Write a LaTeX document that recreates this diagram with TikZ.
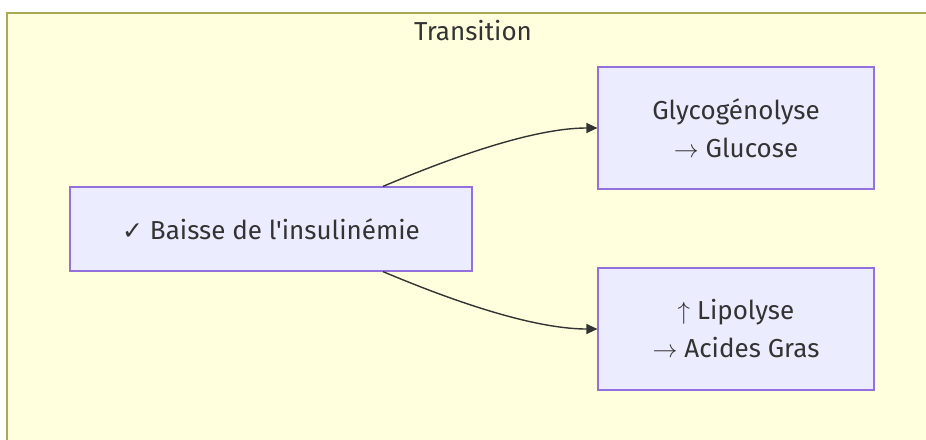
\documentclass[tikz,border=0pt]{standalone}
\usepackage{fontspec}
\setmainfont{Fira Sans}[Ligatures=TeXOff]
\newfontfamily\symfont{DejaVu Sans}
\usetikzlibrary{arrows.meta}
\definecolor{clusterfill}{HTML}{FFFFDE}
\definecolor{clusterdraw}{HTML}{AAAA55}
\definecolor{nodefill}{HTML}{ECECFF}
\definecolor{nodedraw}{HTML}{9370DB}
\definecolor{txt}{HTML}{333333}
\tikzset{
  box/.style={draw=nodedraw, fill=nodefill, line width=1.2pt, text=txt,
    font=\fontsize{26}{38}\selectfont, align=center, inner sep=0pt},
  edge/.style={draw=txt, line width=1.4pt, -{Triangle[length=11pt,width=10pt]}},
}
\begin{document}
\begin{tikzpicture}[x=1pt,y=-1pt]
\useasboundingbox (0,0) rectangle (926,439);
\clip (0,0) rectangle (926,439);
\fill[white] (0,0) rectangle (926,439);
\draw[draw=clusterdraw, fill=clusterfill, line width=1.5pt] (7,13) rectangle (960,470);
\node[text=txt, font=\fontsize{26}{38}\selectfont] (title) at (473,31) {Transition};
\node[box, minimum width=402pt, minimum height=84pt] (a) at (271,229) {{\symfont\fontsize{25}{38}\selectfont ✓} Baisse de l'insulinémie};
\node[box, minimum width=276pt, minimum height=122pt] (b) at (736,128) {Glycogénolyse\\$\rightarrow$ Glucose};
\node[box, minimum width=276pt, minimum height=122pt] (c) at (736,329) {$\uparrow$ Lipolyse\\$\rightarrow$ Acides Gras};
\draw[edge] ([xshift=112pt]a.north) .. controls +(90,-38) and +(-55,0) .. (b.west);
\draw[edge] ([xshift=112pt]a.south) .. controls +(90,38) and +(-55,0) .. (c.west);
\end{tikzpicture}
\end{document}
